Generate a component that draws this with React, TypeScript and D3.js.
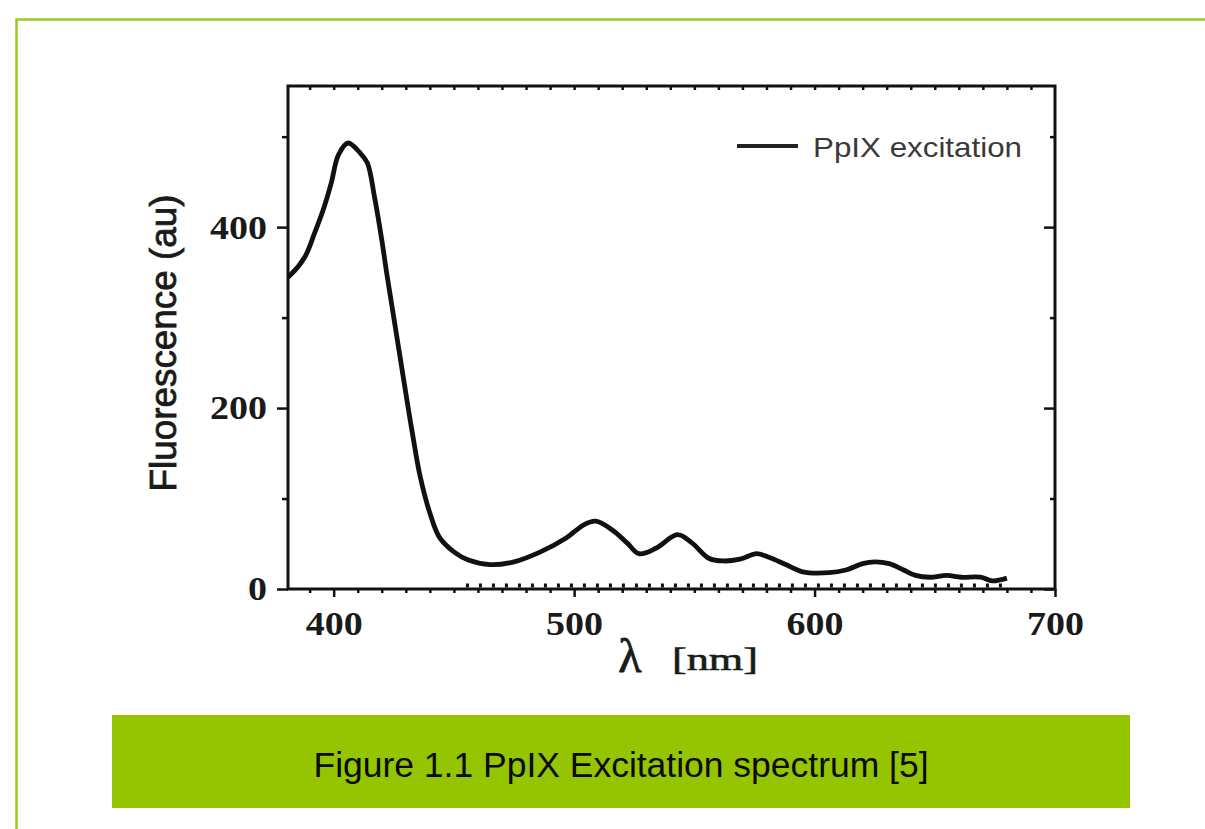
import React, { useEffect, useRef } from 'react';
import * as d3 from 'd3';

const wavelength = [381, 382, 388, 392, 396, 399, 402, 406, 411, 414, 417, 420, 422, 425, 428, 431, 433, 436, 440, 444, 450, 456, 465, 475, 486, 497, 504, 509, 516, 522, 527, 534, 543, 549, 556, 562, 569, 576, 581, 588, 595, 606, 613, 620, 625, 631, 637, 642, 648, 655, 661, 669, 674, 680];
const fluorescence = [345, 347, 367, 393, 422, 449, 480, 493, 482, 471, 433, 386, 350, 300, 250, 200, 168, 124, 84, 57, 41, 32, 27, 30, 41, 57, 71, 75, 65, 51, 39, 45, 60, 51, 34, 31, 33, 39, 35, 27, 19, 18, 21, 28, 30, 28, 21, 15, 13, 15, 13, 13, 9, 12];

const baselineWavelength = [455, 680];
const baselineValue = [4, 4];

const xMajorTicks = [400, 500, 600, 700];
const yMajorTicks = [0, 200, 400];
const yMinorTicks = [100, 300, 500];

const legendLabel = 'PpIX  excitation';
const yTitle = 'Fluorescence (au)';
const xTitleSymbol = 'λ';
const xTitleUnit = '[nm]';
const caption = 'Figure 1.1 PpIX Excitation spectrum [5]';

export default function App() {
  const ref = useRef<SVGSVGElement>(null);

  useEffect(() => {
    const svg = d3.select(ref.current);
    svg.selectAll('*').remove();
    const W = 1205, H = 829;
    const L = 288, R = 1055, T = 86, B = 589;
    const x = d3.scaleLinear().domain([381, 700]).range([L, R]);
    const y = d3.scaleLinear().domain([0, 556]).range([B, T]);

    svg.append('rect').attr('width', W).attr('height', H).attr('fill', '#fff');

    // green slide border
    svg.append('path')
      .attr('d', `M16.5,${H} V19.5 H${W}`)
      .attr('fill', 'none')
      .attr('stroke', '#9ccb1f')
      .attr('stroke-width', 2.5);

    // caption box
    svg.append('rect').attr('x', 112).attr('y', 715).attr('width', 1018).attr('height', 93).attr('fill', '#95c500');
    svg.append('text')
      .attr('x', 621).attr('y', 777)
      .attr('text-anchor', 'middle')
      .attr('font-family', 'Liberation Sans, Arial, sans-serif')
      .attr('font-size', 35)
      .attr('textLength', 615)
      .attr('lengthAdjust', 'spacingAndGlyphs')
      .attr('fill', '#0a0a0a')
      .text(caption);

    const minorX = d3.range(390, 700, 10).filter(v => !xMajorTicks.includes(v));

    const styleAxis = (g: any) => {
      g.select('.domain').remove();
      g.selectAll('.tick line').attr('stroke', '#111').attr('stroke-width', 2.5);
    };

    // bottom axis minor
    svg.append('g').attr('transform', `translate(0,${B})`)
      .call(d3.axisBottom(x).tickValues(minorX).tickSize(4).tickFormat(() => ''))
      .call(styleAxis);
    // bottom axis major with labels
    const gb = svg.append('g').attr('transform', `translate(0,${B})`)
      .call(d3.axisBottom(x).tickValues(xMajorTicks).tickSize(8).tickFormat(d3.format('d')))
      .call(styleAxis);
    gb.selectAll('.tick text')
      .attr('y', 46).attr('dy', 0)
      .attr('font-family', 'Liberation Serif, Times New Roman, serif')
      .attr('font-weight', 'bold')
      .attr('font-size', 34)
      .attr('fill', '#1a1a1a')
      .attr('textLength', 57)
      .attr('lengthAdjust', 'spacingAndGlyphs');

    // top axis ticks (inward)
    svg.append('g').attr('transform', `translate(0,${T})`)
      .call(d3.axisTop(x).tickValues(d3.range(390, 700, 10)).tickSize(-4).tickFormat(() => ''))
      .call(styleAxis);

    // left axis
    svg.append('g').attr('transform', `translate(${L},0)`)
      .call(d3.axisLeft(y).tickValues(yMinorTicks).tickSize(6).tickFormat(() => ''))
      .call(styleAxis);
    const gl = svg.append('g').attr('transform', `translate(${L},0)`)
      .call(d3.axisLeft(y).tickValues(yMajorTicks).tickSize(11).tickPadding(10).tickFormat(d3.format('d')))
      .call(styleAxis);
    gl.selectAll('.tick text')
      .attr('font-family', 'Liberation Serif, Times New Roman, serif')
      .attr('font-weight', 'bold')
      .attr('font-size', 34)
      .attr('fill', '#1a1a1a')
      .attr('textLength', (d: any) => (String(d).length === 1 ? 19 : 57))
      .attr('lengthAdjust', 'spacingAndGlyphs');

    // right axis (inward)
    svg.append('g').attr('transform', `translate(${R},0)`)
      .call(d3.axisRight(y).tickValues(yMinorTicks).tickSize(-5).tickFormat(() => ''))
      .call(styleAxis);
    svg.append('g').attr('transform', `translate(${R},0)`)
      .call(d3.axisRight(y).tickValues(yMajorTicks).tickSize(-11).tickFormat(() => ''))
      .call(styleAxis);

    // frame
    svg.append('rect')
      .attr('x', L).attr('y', T).attr('width', R - L).attr('height', B - T)
      .attr('fill', 'none').attr('stroke', '#111').attr('stroke-width', 3);

    // dotted baseline series
    const base = baselineWavelength.map((w, i) => [w, baselineValue[i]] as [number, number]);
    svg.append('path')
      .attr('d', d3.line().x(d => x(d[0])).y(d => y(d[1]))(base) as string)
      .attr('fill', 'none')
      .attr('stroke', '#111')
      .attr('stroke-width', 4)
      .attr('stroke-dasharray', '3 10');

    // main spectrum
    const pts = wavelength.map((w, i) => [w, fluorescence[i]] as [number, number]);
    svg.append('path')
      .attr('d', d3.line().curve(d3.curveCatmullRom.alpha(0.5)).x(d => x(d[0])).y(d => y(d[1]))(pts) as string)
      .attr('fill', 'none')
      .attr('stroke', '#111')
      .attr('stroke-width', 4.8)
      .attr('stroke-linejoin', 'round');

    // legend
    svg.append('line').attr('x1', 737).attr('x2', 798).attr('y1', 146).attr('y2', 146)
      .attr('stroke', '#222').attr('stroke-width', 4);
    svg.append('text')
      .attr('x', 813).attr('y', 157)
      .attr('font-family', 'Liberation Sans, Arial, sans-serif')
      .attr('font-size', 28)
      .attr('fill', '#3a3a3a')
      .attr('textLength', 209)
      .attr('lengthAdjust', 'spacingAndGlyphs')
      .text(legendLabel);

    // y title
    svg.append('text')
      .attr('transform', 'translate(176,343) rotate(-90)')
      .attr('text-anchor', 'middle')
      .attr('font-family', 'Liberation Sans, Arial, sans-serif')
      .attr('font-size', 36)
      .attr('fill', '#1a1a1a')
      .attr('stroke', '#1a1a1a')
      .attr('stroke-width', 0.8)
      .attr('textLength', 297)
      .attr('lengthAdjust', 'spacingAndGlyphs')
      .text(yTitle);

    // x title
    svg.append('text')
      .attr('x', 630).attr('y', 672)
      .attr('text-anchor', 'middle')
      .attr('font-family', 'Liberation Serif, Times New Roman, serif')
      .attr('font-size', 48)
      .attr('fill', '#1a1a1a')
      .attr('stroke', '#1a1a1a')
      .attr('stroke-width', 0.8)
      .text(xTitleSymbol);
    svg.append('text')
      .attr('x', 672).attr('y', 670)
      .attr('font-family', 'Liberation Serif, Times New Roman, serif')
      .attr('font-size', 32)
      .attr('fill', '#1a1a1a')
      .attr('stroke', '#1a1a1a')
      .attr('stroke-width', 0.6)
      .attr('textLength', 86)
      .attr('lengthAdjust', 'spacingAndGlyphs')
      .text(xTitleUnit);
  }, []);

  return (
    <svg
      ref={ref}
      width={1205}
      height={829}
      style={{ position: 'absolute', left: 0, top: 0, display: 'block' }}
    />
  );
}
